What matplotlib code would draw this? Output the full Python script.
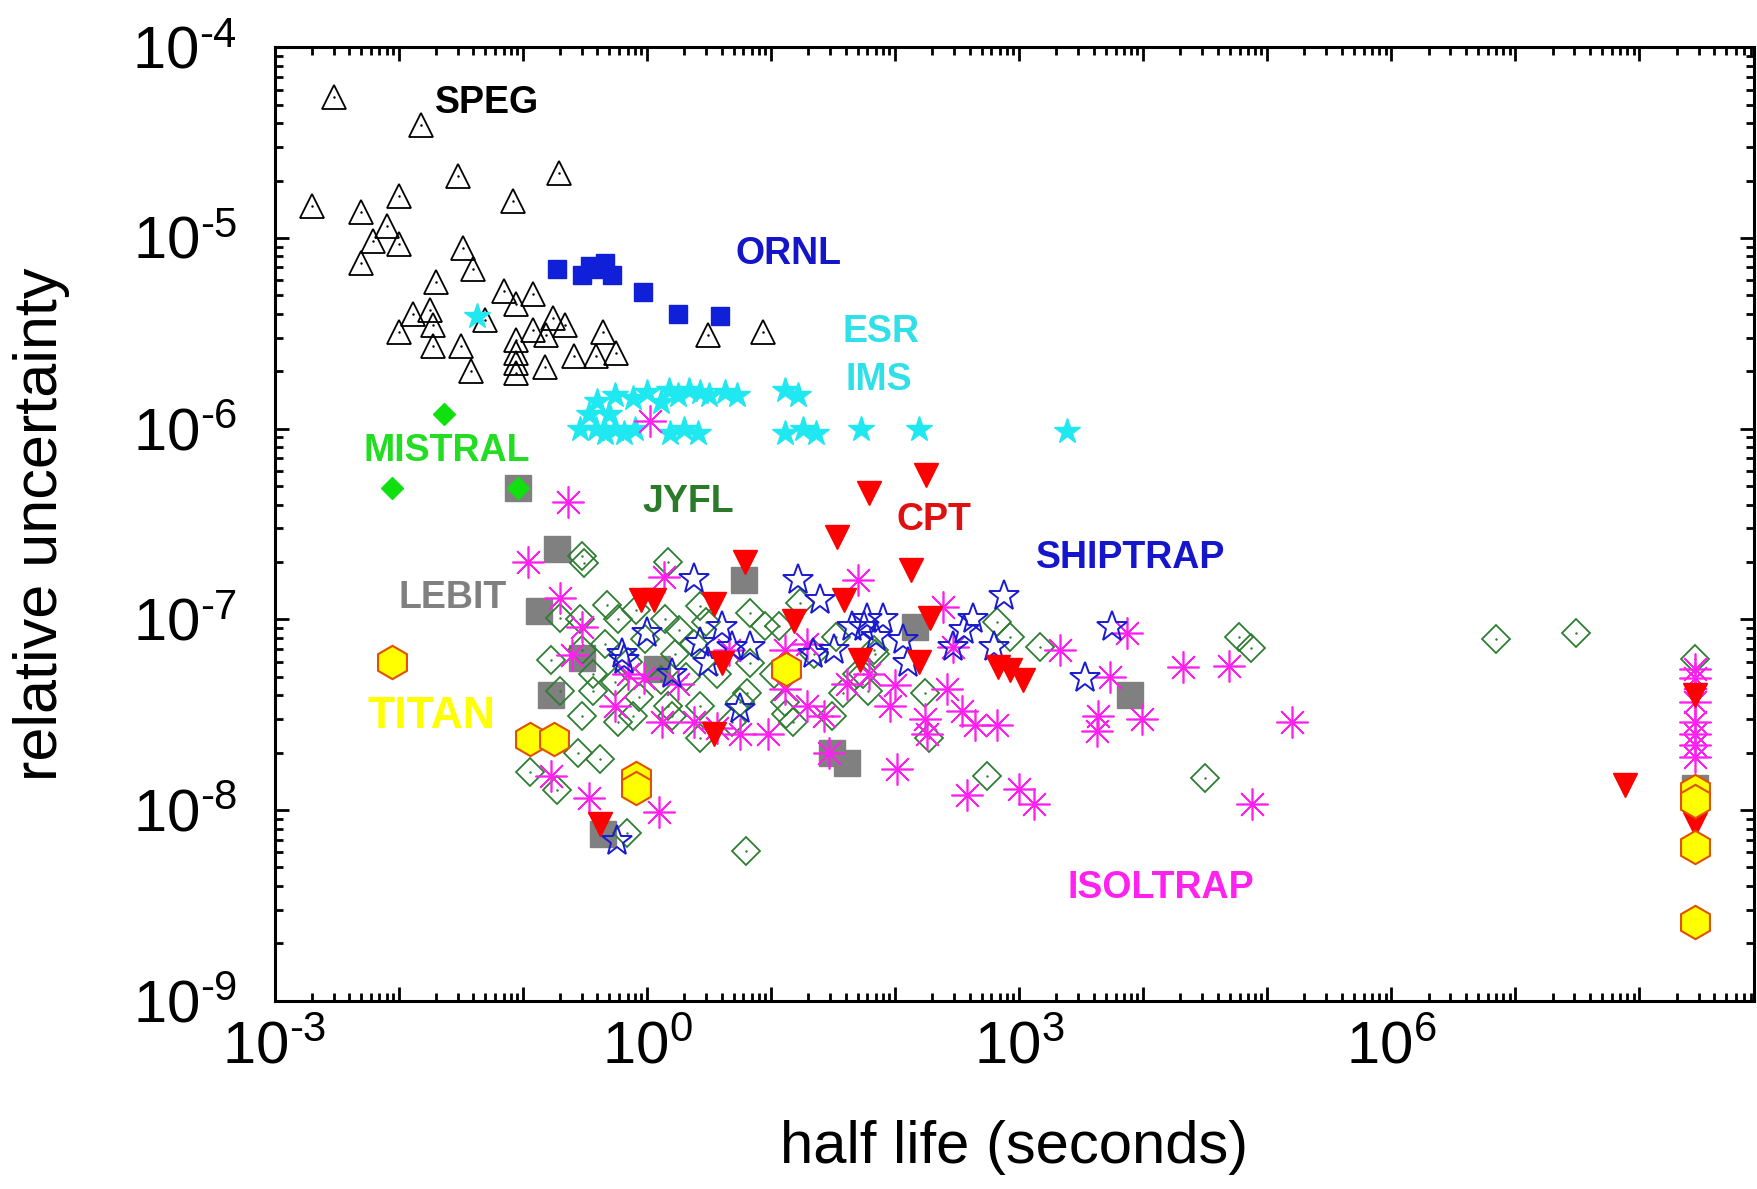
import numpy as np
import matplotlib
matplotlib.use("Agg")
import matplotlib.pyplot as plt
from matplotlib.ticker import LogLocator, FixedLocator, FuncFormatter, NullFormatter

# half life (s) and relative uncertainty, one pair of lists per facility
speg_t = [3.0e-3, 1.5e-2, 3.0e-2, 0.195, 2.0e-3, 1.0e-2, 8.3e-2, 5.0e-3, 8.0e-3, 6.2e-3,
          1.0e-2, 5.0e-3, 3.3e-2, 4.0e-2, 2.0e-2, 7.1e-2, 0.12, 8.9e-2, 1.3e-2, 1.8e-2,
          1.9e-2, 5.0e-2, 1.0e-2, 1.9e-2, 3.2e-2, 3.8e-2, 8.9e-2, 8.9e-2, 8.9e-2, 8.9e-2,
          0.15, 0.12, 0.155, 0.175, 0.22, 0.26, 0.39, 0.44, 0.56, 3.1, 8.7]
speg_u = [5.5e-5, 3.9e-5, 2.1e-5, 2.2e-5, 1.47e-5, 1.66e-5, 1.57e-5, 1.37e-5, 1.15e-5, 9.6e-6,
          9.3e-6, 7.4e-6, 8.9e-6, 6.9e-6, 5.9e-6, 5.3e-6, 5.1e-6, 4.5e-6, 4.0e-6, 4.2e-6,
          3.5e-6, 3.7e-6, 3.2e-6, 2.7e-6, 2.7e-6, 2.0e-6, 2.9e-6, 2.5e-6, 2.2e-6, 1.95e-6,
          2.1e-6, 3.3e-6, 3.1e-6, 3.8e-6, 3.5e-6, 2.4e-6, 2.4e-6, 3.2e-6, 2.5e-6, 3.1e-6, 3.2e-6]

ornl_t = [0.19, 0.30, 0.35, 0.40, 0.46, 0.52, 0.94, 1.8, 3.9]
ornl_u = [6.9e-6, 6.4e-6, 7.1e-6, 6.9e-6, 7.4e-6, 6.4e-6, 5.2e-6, 4.0e-6, 3.9e-6]

esr_t = [0.043, 0.40, 0.55, 0.78, 1.0, 1.5, 1.8, 2.2, 2.7, 3.2, 4.3, 5.3, 13, 16.5,
         0.29, 0.39, 0.46, 0.55, 0.65, 0.81, 1.55, 2.0, 2.6, 13, 18, 23, 53, 155, 2450,
         0.34, 1.3, 0.5]
esr_u = [3.9e-6, 1.4e-6, 1.5e-6, 1.45e-6, 1.55e-6, 1.6e-6, 1.5e-6, 1.6e-6, 1.55e-6, 1.5e-6,
         1.55e-6, 1.5e-6, 1.6e-6, 1.5e-6,
         1.0e-6, 1.0e-6, 0.95e-6, 1.0e-6, 0.95e-6, 1.0e-6, 0.95e-6, 1.0e-6, 0.95e-6, 0.95e-6,
         1.0e-6, 0.95e-6, 1.0e-6, 1.0e-6, 0.97e-6, 1.2e-6, 1.38e-6, 1.2e-6]

mistral_t = [0.023, 8.9e-3, 0.091]
mistral_u = [1.2e-6, 4.9e-7, 4.9e-7]

lebit_t = [0.091, 0.19, 0.135, 0.17, 0.44, 6.1, 1.21, 31, 41, 7800, 145, 2.8e8, 0.30]
lebit_u = [4.9e-7, 2.35e-7, 1.1e-7, 4.0e-8, 7.5e-9, 1.6e-7, 5.5e-8, 2.0e-8, 1.77e-8, 4.0e-8,
           9.1e-8, 1.3e-8, 6.3e-8]

jyfl_t = [0.30, 0.31, 1.48, 0.20, 0.29, 0.17, 0.20, 0.30, 0.37, 0.48, 0.59, 0.82, 0.55, 0.87,
          0.59, 0.28, 0.42, 0.115, 0.19, 0.69, 1.39, 1.81, 1.69, 1.30, 2.06, 2.69, 1.48, 2.69,
          2.69, 4.9, 6.8, 8.9, 6.8, 6.4, 11.6, 17.2, 13.2, 15.1, 22.4, 33.4, 31.3, 38.2, 49.7,
          60.7, 69.2, 175, 187, 670, 840, 1480, 555, 5.9e4, 7.4e4, 3.15e4, 6.3, 7.0e6, 3.1e7,
          2.8e8, 0.46, 0.70, 0.96, 2.4, 3.0, 3.7, 10.5, 12.9, 55, 68, 0.30, 0.37, 0.78, 1.6, 5.6]
jyfl_u = [2.15e-7, 1.98e-7, 2.0e-7, 1.02e-7, 1.0e-7, 6.1e-8, 4.2e-8, 3.1e-8, 4.2e-8, 1.19e-7,
          1.0e-7, 1.12e-7, 4.7e-8, 3.9e-8, 2.9e-8, 2.0e-8, 1.86e-8, 1.58e-8, 1.27e-8, 7.6e-9,
          1.0e-7, 8.8e-8, 6.6e-8, 4.8e-8, 5.0e-8, 1.17e-7, 3.5e-8, 3.5e-8, 2.4e-8, 2.9e-8,
          1.08e-7, 9.2e-8, 5.9e-8, 4.1e-8, 9.2e-8, 1.22e-7, 3.2e-8, 2.9e-8, 6.6e-8, 8.1e-8,
          3.1e-8, 4.1e-8, 5.2e-8, 4.2e-8, 6.6e-8, 4.1e-8, 2.4e-8, 9.7e-8, 8.1e-8, 7.2e-8,
          1.5e-8, 8.1e-8, 7.1e-8, 1.48e-8, 6.1e-9, 7.9e-8, 8.5e-8, 6.2e-8, 7.4e-8, 6.0e-8,
          7.9e-8, 7.4e-8, 9.7e-8, 5.2e-8, 5.2e-8, 3.7e-8, 5.2e-8, 6.9e-8, 6.9e-8, 5.2e-8,
          3.1e-8, 3.1e-8, 3.7e-8]

iso_t = [1.07, 0.23, 0.11, 0.20, 1.37, 50, 0.34, 0.17, 1.26, 104, 380, 1000, 1320, 7.6e4,
         1.6e5, 9800, 4370, 4260, 5400, 7400, 2.1e4, 4.9e4, 445, 665, 350, 2140, 174, 180,
         91, 265, 100, 245, 295, 0.55, 0.71, 0.95, 1.32, 1.8, 2.4, 3.7, 5.6, 9.4, 12.9,
         19.5, 27, 29.5, 41, 62, 12.9, 19.5, 4.6, 0.25, 0.30,
         2.8e8, 2.8e8, 2.8e8, 2.8e8, 2.8e8, 2.8e8, 2.8e8]
iso_u = [1.1e-6, 4.1e-7, 2.0e-7, 1.3e-7, 1.66e-7, 1.6e-7, 1.15e-8, 1.5e-8, 9.8e-9, 1.65e-8,
         1.2e-8, 1.29e-8, 1.07e-8, 1.07e-8, 2.9e-8, 3.0e-8, 3.1e-8, 2.6e-8, 5.0e-8, 8.5e-8,
         5.6e-8, 5.7e-8, 2.8e-8, 2.8e-8, 3.3e-8, 6.9e-8, 3.0e-8, 2.5e-8, 3.5e-8, 4.3e-8,
         4.5e-8, 1.16e-7, 7.2e-8, 3.5e-8, 5.2e-8, 4.9e-8, 2.9e-8, 4.6e-8, 2.9e-8, 2.7e-8,
         2.5e-8, 2.5e-8, 4.3e-8, 3.5e-8, 3.1e-8, 2.0e-8, 4.6e-8, 5.2e-8, 6.9e-8, 7.4e-8,
         6.9e-8, 6.5e-8, 9.1e-8,
         5.5e-8, 4.9e-8, 3.7e-8, 2.9e-8, 2.5e-8, 2.2e-8, 1.9e-8]

ship_t = [2.4, 16.6, 750, 5600, 3400, 0.57, 5.6, 0.63, 0.66, 2.7, 4.0, 3.1, 4.9, 6.8, 22,
          25, 32, 59, 80, 71, 117, 427, 360, 624, 295, 1.6, 1.0, 56, 127, 45]
ship_u = [1.62e-7, 1.6e-7, 1.32e-7, 9.1e-8, 4.9e-8, 6.9e-9, 3.4e-8, 6.6e-8, 6.1e-8, 7.5e-8,
          9.1e-8, 5.9e-8, 7.2e-8, 7.2e-8, 6.6e-8, 1.26e-7, 6.9e-8, 1.0e-7, 1.0e-7, 8.1e-8,
          7.8e-8, 1.0e-7, 8.8e-8, 7.2e-8, 7.2e-8, 5.2e-8, 8.5e-8, 9.1e-8, 5.9e-8, 9.1e-8]

cpt_t = [178, 62, 34, 135, 6.2, 1.15, 0.90, 39, 15.5, 3.5, 52, 155, 190, 680, 850, 1070,
         3.5, 0.42, 4.0, 7.7e7, 2.8e8, 2.8e8]
cpt_u = [5.7e-7, 4.6e-7, 2.7e-7, 1.82e-7, 2.0e-7, 1.27e-7, 1.27e-7, 1.27e-7, 9.8e-8, 1.2e-7,
         6.1e-8, 6.0e-8, 1.02e-7, 5.6e-8, 5.4e-8, 4.8e-8, 2.5e-8, 8.5e-9, 5.9e-8, 1.35e-8,
         4.0e-8, 8.5e-9]

titan_t = [8.9e-3, 0.115, 0.178, 0.82, 0.82, 13.2, 2.8e8, 2.8e8, 2.8e8, 2.8e8]
titan_u = [6.0e-8, 2.37e-8, 2.37e-8, 1.48e-8, 1.31e-8, 5.5e-8, 1.26e-8, 1.12e-8, 6.4e-9, 2.6e-9]

# decades with a major tick
x_decades = [1e-3, 1e-2, 1e-1, 1e0, 1e1, 1e2, 1e3, 1e4, 1e5, 1e6, 1e7, 1e8]
y_decades = [1e-9, 1e-8, 1e-7, 1e-6, 1e-5, 1e-4]

plt.rcParams['font.family'] = ['Liberation Sans', 'DejaVu Sans']
plt.rcParams['mathtext.fontset'] = 'custom'
plt.rcParams['mathtext.rm'] = 'Liberation Sans'

fig = plt.figure(figsize=(17.57, 11.89), dpi=100)
ax = fig.add_axes([0.1563, 0.1583, 0.842, 0.802])

# markers, back to front (open symbols get the small centre dot of the original)
ax.plot(speg_t, speg_u, ls='none', marker='^', ms=17, mfc='none', mec='black', mew=1.3)
ax.plot(speg_t, speg_u, ls='none', marker='.', ms=1.5, color='black')
ax.plot(ornl_t, ornl_u, ls='none', marker='s', ms=12.5, mfc='#1020d8', mec='#1020d8')
ax.plot(esr_t, esr_u, ls='none', marker='*', ms=19, mfc='#20e8f0', mec='#20e8f0')
ax.plot(lebit_t, lebit_u, ls='none', marker='s', ms=19, mfc='#808080', mec='#808080')
ax.plot(mistral_t, mistral_u, ls='none', marker='D', ms=11.5, mfc='#10e010', mec='#10e010')
ax.plot(jyfl_t, jyfl_u, ls='none', marker='D', ms=14, mfc='none', mec='#2e7d32', mew=1.3)
ax.plot(jyfl_t, jyfl_u, ls='none', marker='.', ms=1.5, color='#2e7d32')
ax.plot(iso_t, iso_u, ls='none', marker=(8, 2, 0), ms=23, mec='#ff20f0', mew=1.2)
ax.plot(ship_t, ship_u, ls='none', marker='*', ms=23, mfc='none', mec='#1a1ad0', mew=1.4)
ax.plot(cpt_t, cpt_u, ls='none', marker='v', ms=17, mfc='#ff0000', mec='#ff0000')
ax.plot(titan_t, titan_u, ls='none', marker='h', ms=24, mfc='#ffff00', mec='#e05000', mew=1.5)

# facility names
lab = dict(fontsize=27, fontweight='bold', ha='left', va='center')
ax.text(0.0196, 5.1e-5, 'SPEG', color='black', **lab)
ax.text(5.2, 8.2e-6, 'ORNL', color='#1414c8', **lab)
ax.text(38, 3.2e-6, 'ESR', color='#30e0e8', **lab)
ax.text(40, 1.8e-6, 'IMS', color='#30e0e8', **lab)
ax.text(5.2e-3, 7.6e-7, 'MISTRAL', color='#22dd22', **lab)
ax.text(0.92, 4.1e-7, 'JYFL', color='#2a7a2a', **lab)
ax.text(102, 3.3e-7, 'CPT', color='#e01010', **lab)
ax.text(1380, 2.1e-7, 'SHIPTRAP', color='#1515cc', **lab)
ax.text(0.01, 1.3e-7, 'LEBIT', color='#808080', **lab)
ax.text(5.6e-3, 3.1e-8, 'TITAN', color='#ffff00', fontsize=32, fontweight='bold',
        ha='left', va='center')
ax.text(2450, 3.9e-9, 'ISOLTRAP', color='#ff22ee', **lab)

ax.set_xscale('log')
ax.set_yscale('log')
ax.set_xlim(1e-3, 8.4e8)
ax.set_ylim(1e-9, 1e-4)


def dec_label(e):
    # short hyphen in the exponent, as in the original
    if e < 0:
        return r'$\mathregular{10^{\text{-}%d}}$' % (-e)
    return r'$\mathregular{10^{%d}}$' % e


def xfmt(v, pos):
    e = int(round(np.log10(v)))
    return dec_label(e) if e % 3 == 0 else ''


def yfmt(v, pos):
    return dec_label(int(round(np.log10(v))))


for axis, ticks, fmt in ((ax.xaxis, x_decades, xfmt), (ax.yaxis, y_decades, yfmt)):
    axis.set_major_locator(FixedLocator(ticks))
    axis.set_minor_locator(LogLocator(base=10, subs=np.arange(2, 10), numticks=30))
    axis.set_major_formatter(FuncFormatter(fmt))
    axis.set_minor_formatter(NullFormatter())

ax.tick_params(which='both', direction='in', top=True, right=True, width=2, labelsize=43)
ax.tick_params(which='major', length=10)
ax.tick_params(which='minor', length=5.5)
ax.tick_params(axis='x', pad=14)
ax.tick_params(axis='y', pad=27)
for sp in ax.spines.values():
    sp.set_linewidth(2.2)

ax.set_xlabel('half life (seconds)', fontsize=43)
ax.set_ylabel('relative uncertainty', fontsize=44)
ax.xaxis.set_label_coords(0.5, -0.125)
ax.yaxis.set_label_coords(-0.138, 0.5)

fig.savefig('out.png', dpi=100)
